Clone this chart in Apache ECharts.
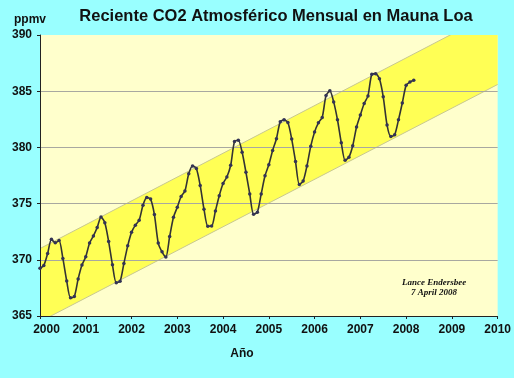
<!DOCTYPE html>
<html><head><meta charset="utf-8">
<script src="https://cdn.jsdelivr.net/npm/echarts@6/dist/echarts.min.js"></script>
<style>html,body{margin:0;padding:0;background:#99FFFF;}#c{width:514px;height:378px;}</style>
</head><body><div id="c"></div>
<script>
// Monthly CO2 (ppmv), Jan..Dec
const startYear = 2000;
const co2_2000 = [369.25, 369.50, 370.56, 371.82, 371.51, 371.71, 370.12, 368.12, 366.62, 366.73, 368.29, 369.53];
const co2_2001 = [370.28, 371.50, 372.12, 372.87, 373.80, 373.30, 371.62, 369.55, 367.96, 368.09, 369.68, 371.24];
const co2_2002 = [372.44, 373.08, 373.52, 374.85, 375.55, 375.40, 374.02, 371.49, 370.71, 370.25, 372.08, 373.78];
const co2_2003 = [374.68, 375.63, 376.11, 377.65, 378.35, 378.13, 376.62, 374.50, 372.99, 373.00, 374.35, 375.70];
const co2_2004 = [376.79, 377.37, 378.41, 380.52, 380.63, 379.57, 377.79, 375.86, 374.06, 374.24, 375.86, 377.48];
const co2_2005 = [378.46, 379.73, 380.77, 382.29, 382.45, 382.21, 380.74, 378.74, 376.70, 377.00, 378.35, 380.11];
const co2_2006 = [381.38, 382.19, 382.67, 384.61, 385.03, 384.05, 382.46, 380.41, 378.85, 379.13, 380.15, 381.82];
const co2_2007 = [382.89, 383.90, 384.58, 386.50, 386.56, 386.10, 384.50, 381.99, 380.96, 381.12, 382.45, 383.95];
const co2_2008 = [385.52, 385.82, 385.97];
const yearlySeries = [co2_2000, co2_2001, co2_2002, co2_2003, co2_2004, co2_2005, co2_2006, co2_2007, co2_2008];

// Trend band edges
const bandYears = [2000, 2010];
const bandLower = [364.5, 385.6];
const bandUpper = [371.0, 392.2];

const xTickLabels = ['2000','2001','2002','2003','2004','2005','2006','2007','2008','2009','2010'];

const monthly = [];
yearlySeries.forEach((arr, yi) => arr.forEach((v, m) => monthly.push([startYear + yi + m / 12, v])));
const bandData = [];
for (let i = 0; i < bandYears.length - 1; i++) {
  bandData.push([bandYears[i], bandLower[i], bandUpper[i], bandYears[i + 1], bandLower[i + 1], bandUpper[i + 1]]);
}

const chart = echarts.init(document.getElementById('c'));
chart.setOption({
  backgroundColor: '#99FFFF',
  animation: false,
  textStyle: { fontFamily: 'Liberation Sans, Arial, sans-serif' },
  title: [
    { text: 'Reciente CO2 Atmosférico Mensual en Mauna Loa', left: 271, top: 3, textAlign: 'center',
      textStyle: { fontSize: 16.5, fontWeight: 'bold', color: '#111', fontFamily: 'Liberation Sans' } },
    { text: 'ppmv', left: 9, top: 9, textStyle: { fontSize: 12, fontWeight: 'bold', color: '#111' } },
    { text: 'Año', left: 237, top: 343, textAlign: 'center', textStyle: { fontSize: 12, fontWeight: 'bold', color: '#111' } }
  ],
  graphic: [
    { type: 'text', left: 402, top: 278, z: 10, style: { text: 'Lance Endersbee\n7 April 2008', textAlign: 'center', x: 38,
      font: 'italic bold 9px "Liberation Serif"', fill: '#111', lineHeight: 10 } }
  ],
  grid: { left: 40, right: 11, top: 35, bottom: 62, show: true, backgroundColor: '#FFFFCC', borderWidth: 0 },
  xAxis: {
    type: 'value', min: 2000, max: 2010, interval: 1, z: 3,
    axisLine: { show: true, lineStyle: { color: '#222', width: 1 } },
    axisTick: { show: true, length: 3, lineStyle: { color: '#222' } },
    splitLine: { show: false },
    axisLabel: { fontSize: 12, fontWeight: 'bold', color: '#111', margin: 8,
      formatter: v => { const i = Math.round(v - 2000); return i === 0 ? '{f|' + xTickLabels[i] + '}' : xTickLabels[i]; },
      rich: { f: { fontSize: 12, fontWeight: 'bold', color: '#111', padding: [0, 0, 0, 13] } } }
  },
  yAxis: {
    type: 'value', min: 365, max: 390, interval: 5, z: 3,
    axisLine: { show: true, lineStyle: { color: '#222', width: 1 } },
    axisTick: { show: true, length: 3, lineStyle: { color: '#222' } },
    splitLine: { show: true, showMinLine: false, showMaxLine: false, lineStyle: { color: '#A8A8A0', width: 1 } },
    axisLabel: { fontSize: 12, fontWeight: 'bold', color: '#111', margin: 8 }
  },
  series: [
    { type: 'custom', data: bandData, clip: true, z: 1,
      renderItem: function (params, api) {
        const a = api.coord([api.value(0), api.value(1)]);
        const b = api.coord([api.value(3), api.value(4)]);
        const c = api.coord([api.value(3), api.value(5)]);
        const d = api.coord([api.value(0), api.value(2)]);
        return { type: 'group', children: [
          { type: 'polygon', shape: { points: [a, b, c, d] }, style: { fill: '#FFFF55' } },
          { type: 'line', shape: { x1: a[0], y1: a[1], x2: b[0], y2: b[1] }, style: { stroke: '#C8C890', lineWidth: 1 } },
          { type: 'line', shape: { x1: d[0], y1: d[1], x2: c[0], y2: c[1] }, style: { stroke: '#C8C890', lineWidth: 1 } }
        ] };
      }
    },
    { type: 'line', data: monthly, smooth: 0.25, symbol: 'circle', symbolSize: 3.5, clip: true,
      lineStyle: { color: '#333333', width: 1.6 }, itemStyle: { color: '#333355' }, z: 5 }
  ]
});
</script></body></html>
